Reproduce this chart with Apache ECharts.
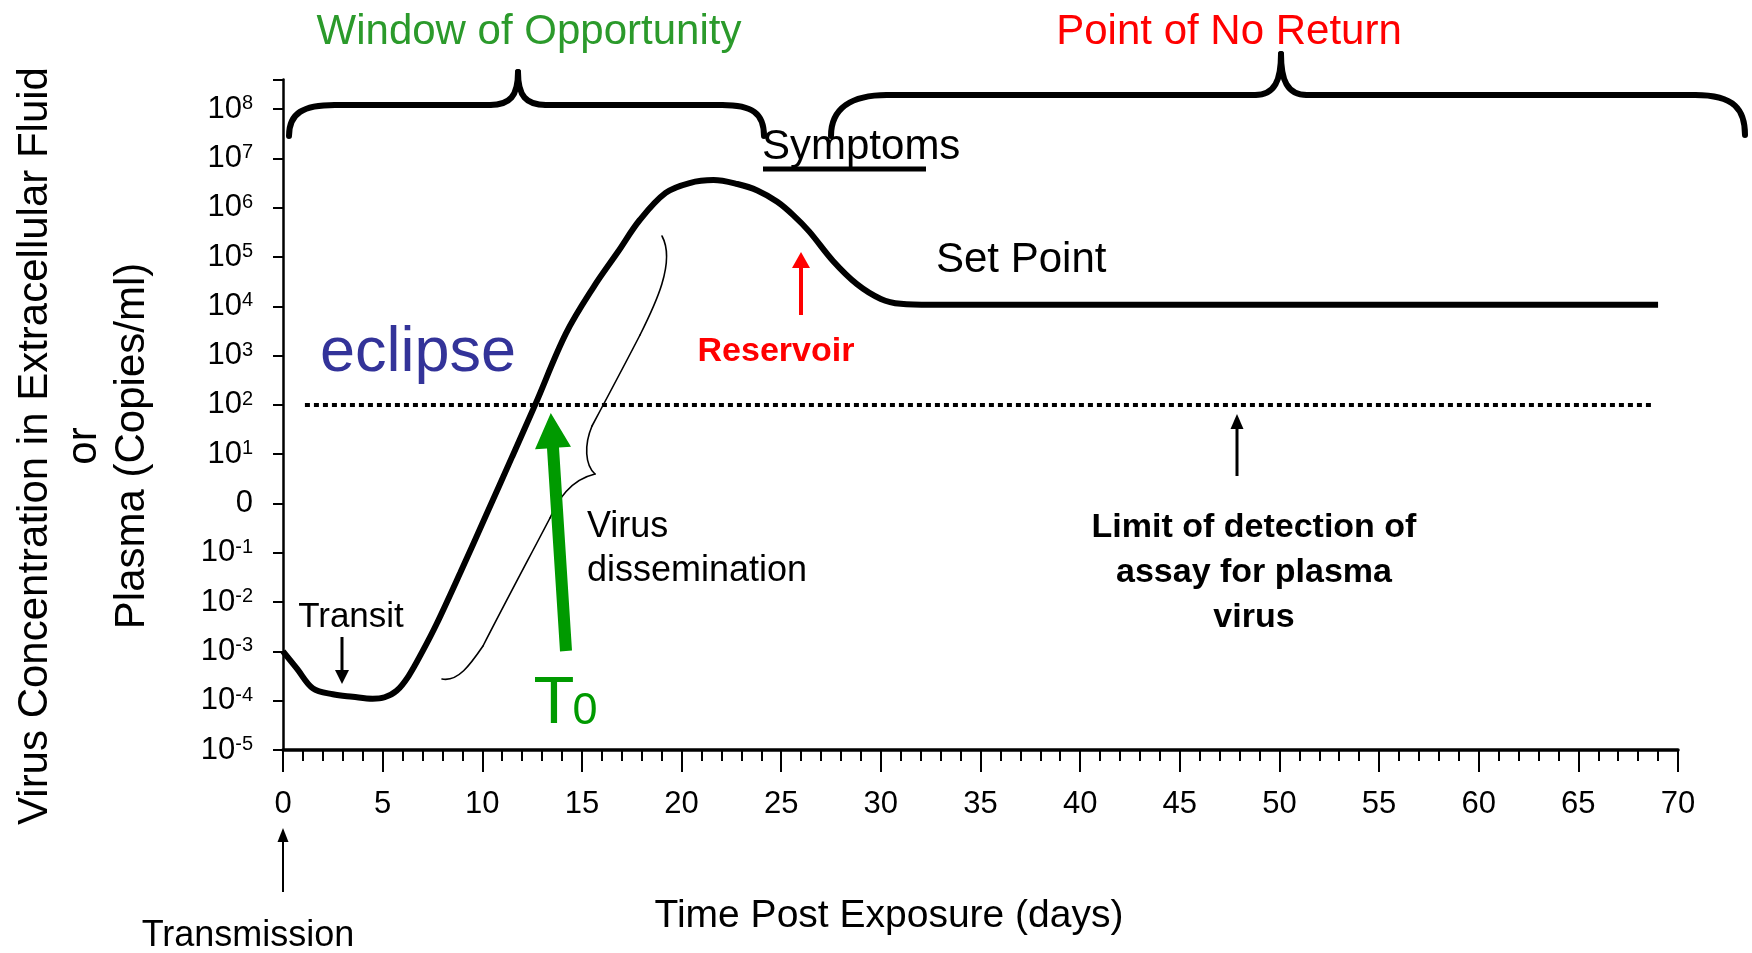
<!DOCTYPE html>
<html>
<head>
<meta charset="utf-8">
<title>Virus concentration after exposure</title>
<script src="https://cdn.jsdelivr.net/npm/echarts@6/dist/echarts.min.js"></script>
<style>
  html, body { margin: 0; padding: 0; background: #fff; }
  #chart { width: 1752px; height: 953px; }
</style>
</head>
<body>
<div id="chart"></div>
<script>
// days after exposure / log10 of virus copies per ml
const days = [0, 0.7, 1.5, 2.5, 3.5, 4.5, 5.1, 5.7, 6.3, 7.0, 7.7, 8.9, 10.2, 11.5, 12.65, 14.2, 15.6, 16.8, 17.9, 19.2, 20.4, 21.6, 22.8, 23.8, 24.8, 25.6, 26.4, 27.6, 28.8, 30.0, 31.0, 32.5, 69];
const log10Copies = [-3.0, -3.35, -3.75, -3.87, -3.92, -3.96, -3.93, -3.8, -3.5, -3.0, -2.45, -1.4, -0.23, 0.95, 2.0, 3.45, 4.4, 5.1, 5.75, 6.3, 6.5, 6.56, 6.48, 6.35, 6.12, 5.85, 5.52, 4.92, 4.45, 4.15, 4.05, 4.03, 4.03];

// assay detection limit (dotted line)
const limitDays = [1.1, 68.8];
const limitLog10 = [2, 2];

// axis ranges
const xMin = 0, xMax = 70, xStep = 5;
const yMin = -5, yMax = 8.6, yStep = 1;

const FONT = '"Liberation Sans", Arial, sans-serif';
const GREEN = '#2b9a2b';
const RED = '#ff0000';

const chart = echarts.init(document.getElementById('chart'));

function txt(x, y, text, size, color, opts) {
  opts = opts || {};
  return {
    type: 'text', x: x, y: y, rotation: opts.rotation || 0, silent: true,
    style: {
      text: text,
      fill: color,
      font: (opts.bold ? 'bold ' : '') + size + 'px ' + FONT,
      align: opts.align || 'center',
      verticalAlign: 'middle',
      lineHeight: opts.lineHeight || size
    }
  };
}

function arrow(x1, y1, x2, y2, color, w, hl, hw) {
  const dx = x2 - x1, dy = y2 - y1;
  const len = Math.sqrt(dx * dx + dy * dy);
  const ux = dx / len, uy = dy / len;
  const bx = x2 - ux * hl, by = y2 - uy * hl;
  return [
    { type: 'line', silent: true, shape: { x1: x1, y1: y1, x2: bx, y2: by }, style: { stroke: color, lineWidth: w } },
    { type: 'polygon', silent: true, shape: { points: [[x2, y2], [bx - uy * hw / 2, by + ux * hw / 2], [bx + uy * hw / 2, by - ux * hw / 2]] }, style: { fill: color } }
  ];
}

// curly brace built from cubic pieces: [x1,y1,cx1,cy1,cx2,cy2,x2,y2]
function brace(pieces, w) {
  return pieces.map(function (p) {
    return {
      type: 'bezierCurve', silent: true,
      shape: { x1: p[0], y1: p[1], cpx1: p[2], cpy1: p[3], cpx2: p[4], cpy2: p[5], x2: p[6], y2: p[7] },
      style: { stroke: '#000', lineWidth: w, fill: 'none', lineCap: 'round' }
    };
  });
}

const leftBrace = brace([
  [289, 136, 289, 113, 303, 105, 335, 105],
  [335, 105, 380, 105, 450, 105, 490, 105],
  [490, 105, 510, 105, 518, 96, 518, 72],
  [518, 72, 518, 96, 526, 105, 546, 105],
  [546, 105, 600, 105, 680, 105, 722, 105],
  [722, 105, 752, 105, 764, 113, 764, 136]
], 6);

const rightBrace = brace([
  [831, 136, 831, 108, 852, 95, 887, 95],
  [887, 95, 1000, 95, 1150, 95, 1255, 95],
  [1255, 95, 1275, 95, 1281, 80, 1281, 54],
  [1281, 54, 1281, 80, 1287, 95, 1307, 95],
  [1307, 95, 1450, 95, 1600, 95, 1695, 95],
  [1695, 95, 1735, 95, 1745, 110, 1745, 135]
], 6);

// thin brace along the rising slope
const thinBrace = brace([
  [442, 679, 458, 682, 470, 665, 483, 646],
  [483, 646, 505, 603, 528, 560, 550, 518],
  [550, 518, 558, 500, 570, 480, 595, 474],
  [595, 474, 585, 465, 584, 445, 592, 426],
  [592, 426, 608, 396, 624, 366, 640, 335],
  [640, 335, 655, 305, 676, 262, 662, 236]
], 1.6);

const t0Arrow = {
  type: 'polygon', silent: true,
  shape: { points: [[560, 651.4], [547, 448.4], [535, 449.2], [550.8, 413], [571, 446.8], [559, 447.6], [572, 650.6]] },
  style: { fill: '#009a00' }
};

const graphics = [].concat(
  leftBrace, rightBrace, thinBrace,
  [
    txt(529, 32, 'Window of Opportunity', 42, GREEN),
    txt(1229, 32, 'Point of No Return', 42, RED),
    txt(762, 147, 'Symptoms', 42, '#000', { align: 'left' }),
    { type: 'line', silent: true, shape: { x1: 763, y1: 169, x2: 926, y2: 169 }, style: { stroke: '#000', lineWidth: 5 } },
    txt(936, 260, 'Set Point', 42, '#000', { align: 'left' }),
    txt(418, 354, 'eclipse', 63, '#333399'),
    txt(776, 352, 'Reservoir', 34, RED, { bold: true }),
    txt(351, 617, 'Transit', 35, '#000'),
    txt(587, 549, 'Virus\ndissemination', 36, '#000', { align: 'left', lineHeight: 44 }),
    txt(1254, 573, 'Limit of detection of\nassay for plasma\nvirus', 34, '#000', { bold: true, lineHeight: 45 }),
    txt(248, 936, 'Transmission', 36, '#000'),
    txt(889, 916, 'Time Post Exposure (days)', 39, '#000'),
    txt(84, 446, 'Virus Concentration in Extracellular Fluid\nor\nPlasma (Copies/ml)', 42, '#000', { rotation: Math.PI / 2, lineHeight: 48.5 }),
    txt(554, 705, 'T', 67, '#009a00'),
    txt(585, 712, '0', 45, '#009a00'),
    t0Arrow
  ],
  arrow(342, 637, 342, 684, '#000', 3, 14, 14),
  arrow(801, 315, 801, 252, RED, 4, 16, 18),
  arrow(1237, 476, 1237, 414, '#000', 3, 15, 13),
  arrow(283, 892, 283, 828, '#000', 2, 14, 11)
);

const option = {
  backgroundColor: '#fff',
  animation: false,
  grid: { left: 283, right: 74, top: 79.5, bottom: 203, containLabel: false, outerBoundsMode: 'none' },
  xAxis: {
    type: 'value', min: xMin, max: xMax, interval: xStep,
    axisLine: { onZero: false, lineStyle: { color: '#000', width: 3.5 } },
    axisTick: { show: true, length: 22, lineStyle: { color: '#000', width: 2 } },
    minorTick: { show: true, splitNumber: 5, length: 11, lineStyle: { color: '#000', width: 2 } },
    axisLabel: { margin: 39, fontSize: 31, color: '#000', fontFamily: FONT },
    splitLine: { show: false }, minorSplitLine: { show: false }
  },
  yAxis: {
    type: 'value', min: yMin, max: yMax, interval: yStep,
    axisLine: { show: true, onZero: false, lineStyle: { color: '#000', width: 2.5 } },
    axisTick: { show: true, length: 10, lineStyle: { color: '#000', width: 2 } },
    axisLabel: {
      margin: 30, fontSize: 31, color: '#000', fontFamily: FONT,
      formatter: function (v) {
        if (Math.abs(v - Math.round(v)) > 1e-6) return '';
        v = Math.round(v);
        if (v === 0) return '0';
        return '10{s|' + v + '}';
      },
      rich: { s: { fontSize: 20, fontFamily: FONT, color: '#000', verticalAlign: 'top', lineHeight: 20 } }
    },
    splitLine: { show: false }
  },
  series: [
    {
      name: 'Virus concentration', type: 'line', silent: true,
      data: days.map(function (d, i) { return [d, log10Copies[i]]; }),
      symbol: 'none', smooth: 0.35,
      lineStyle: { color: '#000', width: 6 }
    },
    {
      name: 'Limit of detection', type: 'line', silent: true,
      data: limitDays.map(function (d, i) { return [d, limitLog10[i]]; }),
      symbol: 'none',
      lineStyle: { color: '#000', width: 4, type: [5, 4] }
    }
  ],
  graphic: graphics
};

chart.setOption(option);
</script>
</body>
</html>
